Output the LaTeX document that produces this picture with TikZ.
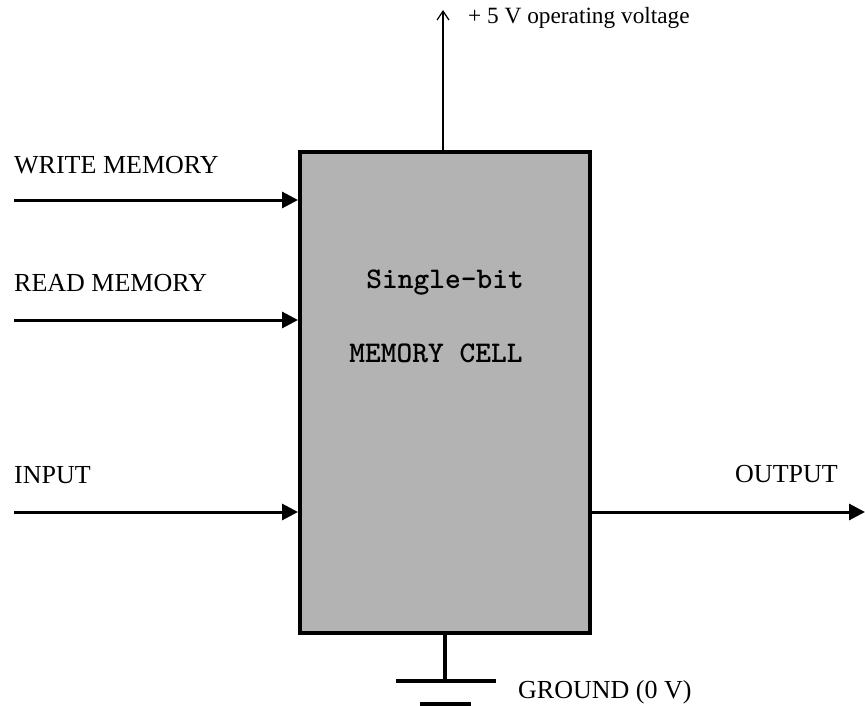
\documentclass[tikz,border=0pt]{standalone}
\usepackage{fontspec}
\setmainfont{Liberation Serif}
\usetikzlibrary{arrows.meta}
\definecolor{cellgray}{HTML}{B3B3B3}
\begin{document}
\begin{tikzpicture}[x=1pt,y=-1pt,
  lbl/.style={font=\fontsize{26}{28}\selectfont, inner sep=0pt},
  celltext/.style={font=\ttfamily\bfseries\fontsize{30}{32}\selectfont, inner sep=0pt},
  sig/.style={line width=3pt, -{Triangle[length=16pt,width=16pt]}},
  thick4/.style={line width=4pt}]
\useasboundingbox (0,0) rectangle (865,706);
\node[draw, line width=4pt, fill=cellgray, minimum width=290pt, minimum height=481pt, inner sep=0pt] (cell) at (445,392.5) {};
\node[celltext] (t1) at (445,283) {Single-bit};
\node[celltext] (t2) at (436,353) {MEMORY CELL};
% inputs
\coordinate (w) at (14,200);
\coordinate (r) at (14,320);
\coordinate (i) at (14,512);
\draw[sig] (w) -- (w -| cell.west);
\draw[sig] (r) -- (r -| cell.west);
\draw[sig] (i) -- (i -| cell.west);
\node[lbl, anchor=west] (lw) at (14,165) {WRITE MEMORY};
\node[lbl, anchor=west] (lr) at (14,283) {READ MEMORY};
\node[lbl, anchor=west] (li) at (14,475) {INPUT};
% output
\coordinate (o) at (865,512);
\draw[sig] (o -| cell.east) -- (o);
\node[lbl, anchor=west] (lo) at (735,474) {OUTPUT};
% supply
\coordinate (vtop) at (443,10);
\draw[line width=2pt, -{Straight Barb[length=9pt,width=12pt,line width=1.2pt]}] (vtop |- cell.north) -- (vtop);
\node[font=\fontsize{23.3}{25}\selectfont, inner sep=0pt, anchor=west] (lv) at (468,18) {+ 5 V operating voltage};
% ground
\coordinate (g1) at (445,681);
\draw[thick4] (g1 |- cell.south) -- (g1);
\coordinate (g1l) at (396,681);
\coordinate (g1r) at (496,681);
\coordinate (g2l) at (420,704);
\coordinate (g2r) at (471,704);
\draw[thick4] (g1l) -- (g1r);
\draw[thick4] (g2l) -- (g2r);
\node[lbl, anchor=west] (lg) at (518,692) {GROUND (0 V)};
\end{tikzpicture}
\end{document}
